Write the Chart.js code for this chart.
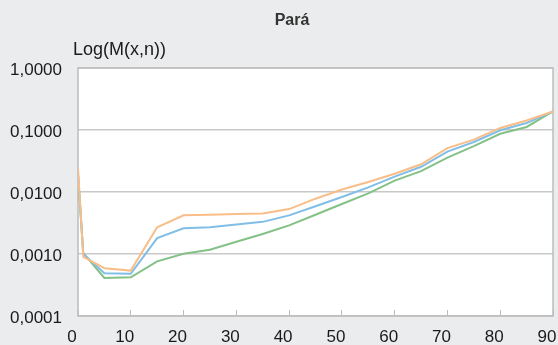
<!DOCTYPE html>
<html>
<head>
<meta charset="utf-8">
<script src="https://cdn.jsdelivr.net/npm/chart.js@4/dist/chart.umd.min.js"></script>
<style>
    html, body { margin: 0; padding: 0; background: #ebeced; }
    #wrap { width: 558px; height: 345px; }
</style>
</head>
<body>
<div id="wrap"><canvas id="myChart" width="558" height="345"></canvas></div>
<script>
const chartTitle = 'Pará';
const yLabel = 'Log(M(x,n))';

// idades (x) e taxas de mortalidade
const ages = [0, 1, 5, 10, 15, 20, 25, 30, 35, 40, 45, 50, 55, 60, 65, 70, 75, 80, 85, 90];
const orangeRates = [0.024, 0.0009, 0.00059, 0.00054, 0.0027, 0.0042, 0.0043, 0.0044, 0.0045, 0.0053, 0.0078, 0.011, 0.0145, 0.0197, 0.028, 0.051, 0.07, 0.108, 0.142, 0.2];
const blueRates = [0.02, 0.001, 0.00049, 0.00048, 0.0018, 0.0026, 0.0027, 0.003, 0.0033, 0.0042, 0.0059, 0.0083, 0.0119, 0.0177, 0.0255, 0.0448, 0.064, 0.099, 0.13, 0.2];
const greenRates = [0.0188, 0.00103, 0.00041, 0.00042, 0.00076, 0.00101, 0.00117, 0.00158, 0.0021, 0.0029, 0.0043, 0.0064, 0.0095, 0.0153, 0.0217, 0.0359, 0.055, 0.087, 0.112, 0.2];

const yTicks = [0.0001, 0.001, 0.01, 0.1, 1];
const xTicks = [0, 10, 20, 30, 40, 50, 60, 70, 80, 90];

function toPoints(values) {
    return ages.map((age, i) => ({ x: age, y: values[i] }));
}

// fundo branco da area do grafico, moldura e textos
const plotFrame = {
    id: 'plotFrame',
    beforeDraw(chart) {
        const ctx = chart.ctx;
        const a = chart.chartArea;
        ctx.save();
        ctx.fillStyle = '#ebeced';
        ctx.fillRect(0, 0, chart.width, chart.height);
        ctx.fillStyle = '#ffffff';
        ctx.fillRect(a.left, a.top, a.right - a.left, a.bottom - a.top);
        ctx.restore();
    },
    beforeDatasetsDraw(chart) {
        const ctx = chart.ctx;
        const a = chart.chartArea;
        ctx.save();
        ctx.strokeStyle = '#bcbcbc';
        ctx.lineWidth = 1.5;
        ctx.strokeRect(a.left, a.top, a.right - a.left, a.bottom - a.top);
        ctx.restore();
    },
    afterDraw(chart) {
        const ctx = chart.ctx;
        ctx.save();
        ctx.fillStyle = '#333333';
        ctx.textAlign = 'center';
        ctx.textBaseline = 'alphabetic';
        ctx.font = 'bold 16px "Liberation Sans", Arial, sans-serif';
        ctx.fillText(chartTitle, 292, 25);
        ctx.fillStyle = '#1a1a1a';
        ctx.textAlign = 'left';
        ctx.font = '18px "Liberation Sans", Arial, sans-serif';
        ctx.fillText(yLabel, 73, 55);
        ctx.restore();
    }
};

const ctx = document.getElementById('myChart').getContext('2d');
const chart = new Chart(ctx, {
    type: 'line',
    data: {
        datasets: [{
            label: 'Série 1',
            data: toPoints(orangeRates),
            borderColor: '#f9be88',
            borderWidth: 2,
            pointRadius: 0,
            fill: false
        }, {
            label: 'Série 2',
            data: toPoints(blueRates),
            borderColor: '#80bee7',
            borderWidth: 2,
            pointRadius: 0,
            fill: false
        }, {
            label: 'Série 3',
            data: toPoints(greenRates),
            borderColor: '#84c187',
            borderWidth: 2,
            pointRadius: 0,
            fill: false
        }]
    },
    options: {
        responsive: false,
        animation: false,
        devicePixelRatio: 1,
        layout: {
            padding: { left: 0, right: 5, top: 68, bottom: 0 }
        },
        plugins: {
            legend: { display: false },
            title: { display: false },
            tooltip: { enabled: false }
        },
        scales: {
            x: {
                type: 'linear',
                min: 0,
                max: 90,
                afterBuildTicks: (scale) => {
                    scale.ticks = xTicks.map(v => ({ value: v }));
                },
                afterFit: (scale) => {
                    scale.height = 29;
                    scale.paddingLeft = 0;
                    scale.paddingRight = 0;
                },
                border: { display: false },
                grid: {
                    drawOnChartArea: false,
                    drawTicks: true,
                    tickLength: -6,
                    color: '#bcbcbc',
                    lineWidth: 1
                },
                ticks: {
                    color: '#1a1a1a',
                    padding: 17,
                    labelOffset: -6,
                    maxRotation: 0,
                    font: { size: 17, family: '"Liberation Sans", Arial, sans-serif' }
                }
            },
            y: {
                type: 'logarithmic',
                min: 0.0001,
                max: 1,
                afterBuildTicks: (scale) => {
                    scale.ticks = yTicks.map(v => ({ value: v }));
                },
                afterFit: (scale) => {
                    scale.width = 78;
                    scale.paddingTop = 0;
                    scale.paddingBottom = 0;
                },
                border: { display: false },
                grid: {
                    drawTicks: false,
                    color: '#c8c8c8',
                    lineWidth: 1.5
                },
                ticks: {
                    color: '#1a1a1a',
                    padding: 16,
                    labelOffset: 2,
                    font: { size: 17, family: '"Liberation Sans", Arial, sans-serif' },
                    callback: (value) => Number(value).toFixed(4).replace('.', ',')
                }
            }
        }
    },
    plugins: [plotFrame]
});
</script>
</body>
</html>
